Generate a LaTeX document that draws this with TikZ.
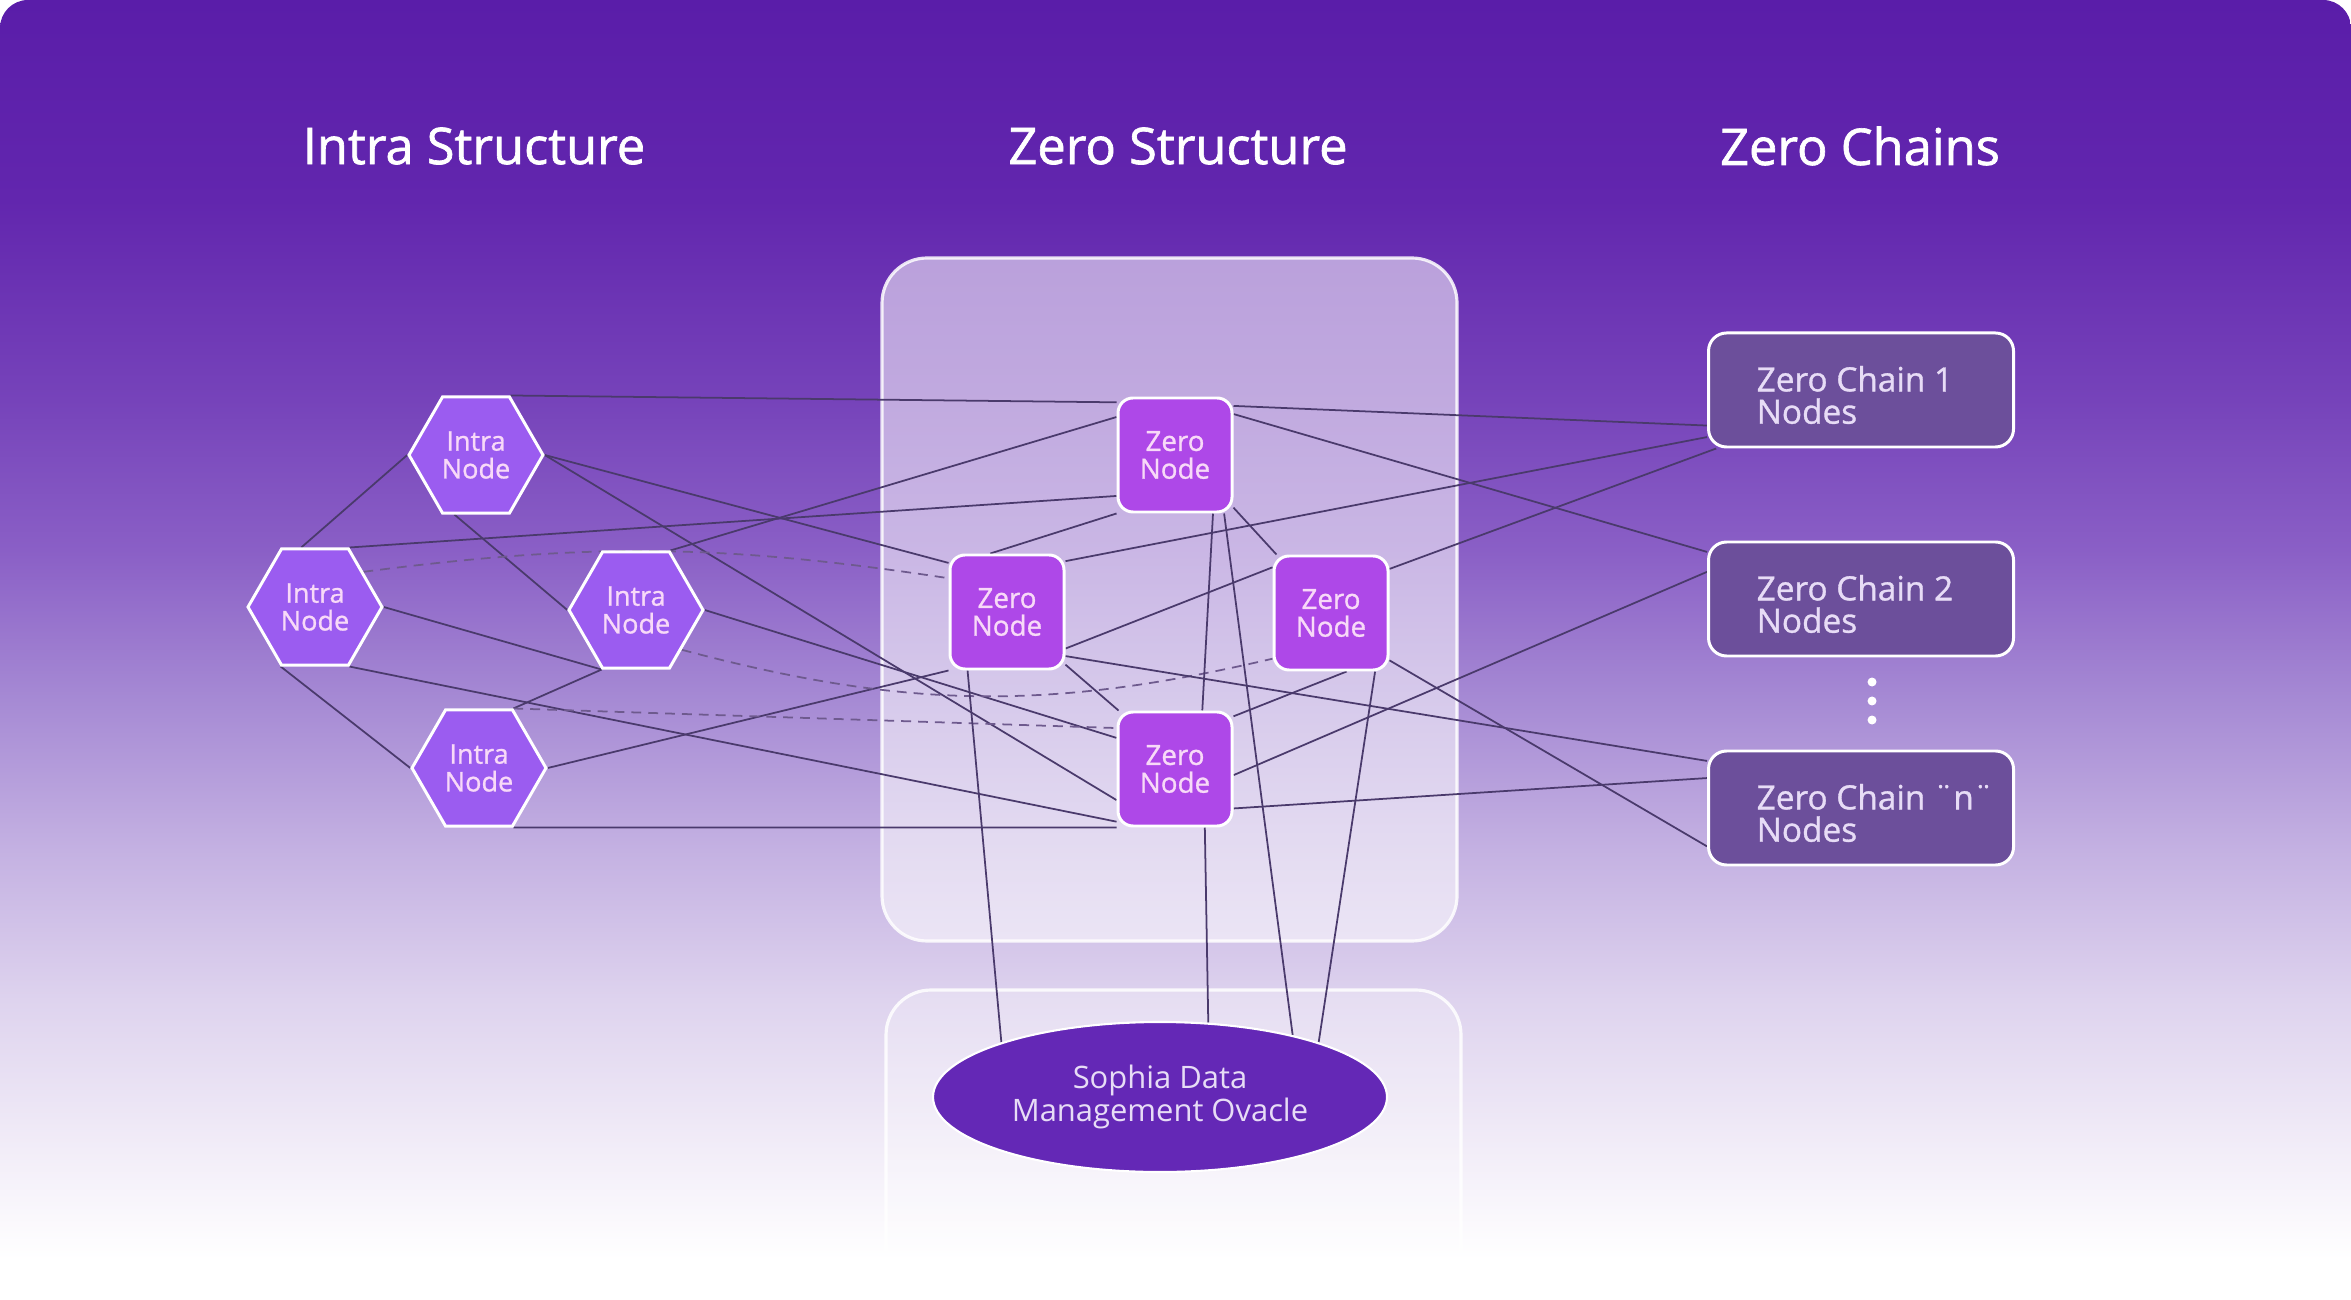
\documentclass[tikz,border=0pt]{standalone}
\usepackage{fontspec}
\setmainfont{Open Sans}
\newfontfamily\headfont{Open Sans}[FakeBold=1.3]
\newfontfamily\medfont{Open Sans}[FakeBold=1.0]
\usetikzlibrary{shapes.geometric}
\pgfdeclarelayer{bg}
\pgfdeclarelayer{edges}
\pgfsetlayers{bg,edges,main}
\definecolor{bgA}{HTML}{5A1DA9}
\definecolor{bgB}{HTML}{6226AE}
\definecolor{bgC}{HTML}{7643BA}
\definecolor{bgD}{HTML}{8A5FC6}
\definecolor{bgE}{HTML}{A68AD4}
\definecolor{bgF}{HTML}{C4B1E2}
\definecolor{bgG}{HTML}{DED3EE}
\definecolor{bgH}{HTML}{F2EDF8}
\definecolor{hexfill}{HTML}{9B5CF0}
\definecolor{zerofill}{HTML}{AE48E8}
\definecolor{chainfill}{HTML}{6C4F9B}
\definecolor{orafill}{HTML}{6428B6}
\definecolor{nodetext}{HTML}{F8D9F8}
\definecolor{softtext}{HTML}{E7DCF6}
\definecolor{linkcol}{HTML}{4A3A6C}
\definecolor{dashcol}{HTML}{6E5A8E}
\pgfdeclareverticalshading{bgfade}{100bp}{color(0bp)=(white); color(26.54bp)=(white);
  color(30.77bp)=(bgH); color(36.54bp)=(bgG); color(42.31bp)=(bgF); color(48.08bp)=(bgE);
  color(53.85bp)=(bgD); color(59.62bp)=(bgC); color(67.31bp)=(bgB); color(75bp)=(bgA); color(100bp)=(bgA)}
\begin{document}
\begin{tikzpicture}
    \tikzset{
        heading/.style={text=white, font=\headfont\fontsize{14.4}{16}\selectfont},
        panel/.style={fill=white, fill opacity=0.55, draw=white, draw opacity=0.85, line width=0.9pt, rounded corners=0.45cm},
        intrahex/.style={regular polygon, regular polygon sides=6, minimum size=1.34cm, inner sep=0pt,
            fill=hexfill, draw=white, line width=0.85pt, text=nodetext, align=center,
            font=\medfont\fontsize{7.7}{7.9}\selectfont},
        zerobox/.style={rectangle, rounded corners=0.15cm, minimum size=1.14cm, inner sep=0pt,
            fill=zerofill, draw=white, line width=0.85pt, text=nodetext, align=center,
            font=\medfont\fontsize{7.9}{7.9}\selectfont},
        chainbox/.style={rectangle, rounded corners=0.18cm, minimum width=3.05cm, minimum height=1.14cm,
            fill=chainfill, draw=white, line width=0.85pt},
        chainlbl/.style={anchor=west, inner sep=0pt, text=softtext, align=left,
            font=\medfont\fontsize{9.5}{9.2}\selectfont},
        oracle/.style={ellipse, minimum width=4.54cm, minimum height=1.5cm, inner sep=0pt,
            fill=orafill, draw=white, line width=0.6pt, text=softtext, align=center,
            font=\fontsize{8.8}{9.4}\selectfont},
        link/.style={draw=linkcol, line width=0.5pt},
        weak/.style={draw=dashcol, line width=0.5pt, dash pattern=on 2.8pt off 2pt}
    }
    \useasboundingbox (0,0) rectangle (23.51,-13);
    % background and panels
    \begin{pgfonlayer}{bg}
        \shade[shading=bgfade] (0,-13) {[rounded corners=0.28cm] -- (0,0) -- (23.51,0)} -- (23.51,-13) -- cycle;
        \draw[panel] (8.82,-2.58) rectangle (14.57,-9.41);
        \draw[panel, fill opacity=0.25] (8.86,-9.90) rectangle (14.61,-13.6);
    \end{pgfonlayer}
    % headings
    \node[heading] (t1) at (4.74,-1.46) {Intra Structure};
    \node[heading] (t2) at (11.78,-1.46) {Zero Structure};
    \node[heading] (t3) at (18.60,-1.46) {Zero Chains};
    % intra structure
    \node[intrahex] (h1) at (4.76,-4.55) {Intra\\Node};
    \node[intrahex] (h2) at (3.15,-6.07) {Intra\\Node};
    \node[intrahex] (h3) at (6.36,-6.10) {Intra\\Node};
    \node[intrahex] (h4) at (4.79,-7.68) {Intra\\Node};
    % zero structure
    \node[zerobox] (z1) at (11.75,-4.55) {Zero\\Node};
    \node[zerobox] (z2) at (10.07,-6.12) {Zero\\Node};
    \node[zerobox] (z3) at (13.31,-6.13) {Zero\\Node};
    \node[zerobox] (z4) at (11.75,-7.69) {Zero\\Node};
    \node[oracle] (orc) at (11.60,-10.97) {Sophia Data\\Management Ovacle};
    % zero chains
    \node[chainbox] (c1) at (18.61,-3.90) {};
    \node[chainbox] (c2) at (18.61,-5.99) {};
    \node[chainbox] (cn) at (18.61,-8.08) {};
    \node[chainlbl] (c1t) at (17.56,-3.95) {Zero Chain 1\\Nodes};
    \node[chainlbl] (c2t) at (17.56,-6.04) {Zero Chain 2\\Nodes};
    \node[chainlbl] (cnt) at (17.56,-8.13) {Zero Chain ¨n¨\\Nodes};
    \foreach \y in {-6.82,-7.01,-7.20}
        \fill[white] (18.72,\y) circle (0.045);
    % connections
    \begin{pgfonlayer}{edges}
        % intra links
        \draw[link] (h1.180) -- (h2.103);
        \draw[link] (h1.250) -- (h3.180);
        \draw[link] (h2.0) -- (h3.240);
        \draw[link] (h2.240) -- (h4.180);
        \draw[link] (h3.240) -- (h4.60);
        % intra to zero
        \draw[link] (h1.60) -- (z1.138);
        \draw[link] (h1.0) -- (z2.140);
        \draw[link] (h1.0) -- (z4.208);
        \draw[link] (h2.60) -- (z1.215);
        \draw[link] (h2.300) -- (z4.222);
        \draw[link] (h3.60) -- (z1.147);
        \draw[link] (h3.0) -- (z4.152);
        \draw[link] (h4.0) -- (z2.225);
        \draw[link] (h4.300) -- (z4.225);
        \draw[weak] (h2.36) to[bend left=8] (z2.150);
        \draw[weak] (h3.319) to[bend right=14] (z3.218);
        \draw[weak] (h4.60) -- (z4.145);
        % zero mesh
        \draw[link] (z1.225) -- (z2.106);
        \draw[link] (z1.318) -- (z3.133);
        \draw[link] (z1.303) -- (z4.65);
        \draw[link] (z2.328) -- (z3.142);
        \draw[link] (z2.318) -- (z4.134);
        \draw[link] (z3.285) -- (z4.42);
        % zero to chains
        \draw[link] (z1.40) -- (c1.193);
        \draw[link] (z1.35) -- (c2.163);
        \draw[link] (z2.41) -- (c1.197);
        \draw[link] (z2.323) -- (cn.163);
        \draw[link] (z3.37) -- (c1.202);
        \draw[link] (z3.321) -- (cn.194);
        \draw[link] (z4.354) -- (c2.170);
        \draw[link] (z4.326) -- (cn.169);
        % zero to oracle
        \draw[link] (z1.310) -- (orc.25);
        \draw[link] (z2.236) -- (orc.161);
        \draw[link] (z3.307) -- (orc.19);
        \draw[link] (z4.297) -- (orc.57);
    \end{pgfonlayer}
\end{tikzpicture}
\end{document}
